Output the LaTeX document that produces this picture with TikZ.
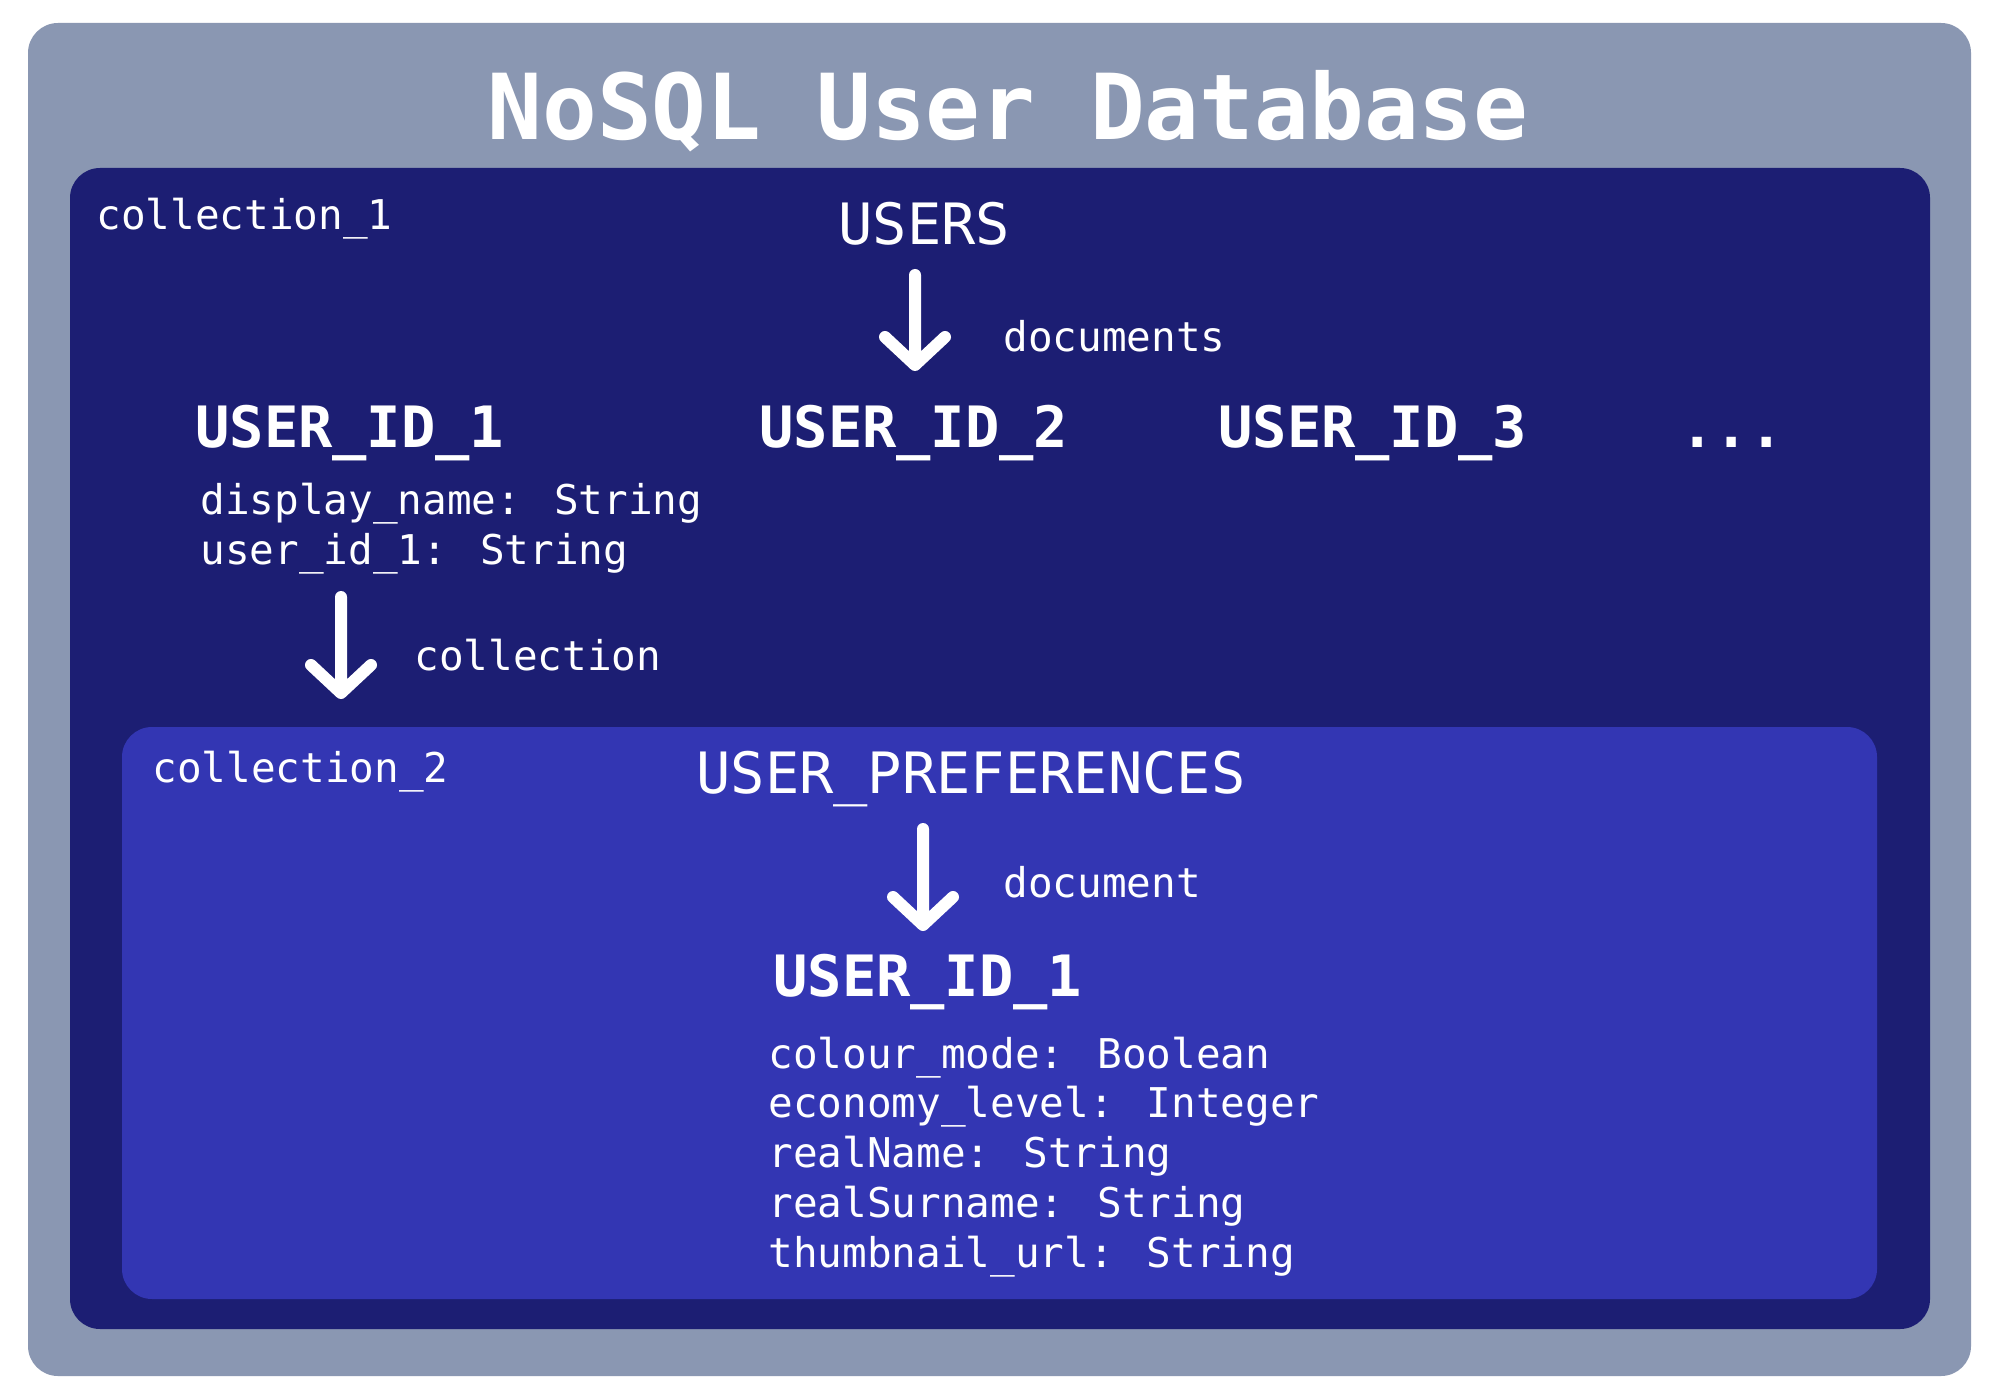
\documentclass[tikz,border=0pt]{standalone}
\usepackage{fontspec}
\setmainfont{DejaVu Sans Mono}
\usetikzlibrary{calc}
\definecolor{outerc}{RGB}{138,151,178}
\definecolor{darkc}{RGB}{28,30,115}
\definecolor{lightc}{RGB}{51,54,179}
\tikzset{
 txt/.style={text=white, inner sep=0pt, anchor=base west},
 small/.style={txt, font=\fontsize{20.5}{25}\selectfont},
 mid/.style={txt, font=\fontsize{28.5}{34}\selectfont},
 midb/.style={txt, font=\fontsize{28.5}{34}\selectfont\bfseries},
 titlef/.style={txt, font=\fontsize{45.5}{54}\selectfont\bfseries},
 arrowline/.style={draw=white, line width=6pt, line cap=round, line join=round},
 panel/.style={rounded corners=15pt}
}
\begin{document}
\begin{tikzpicture}[x=0.5pt,y=-0.5pt]
\useasboundingbox (0,0) rectangle (2000,1400);
\fill[white] (0,0) rectangle (2000,1400);
\fill[outerc, panel] (28,23) rectangle (1971,1376);
\fill[darkc, panel] (70,168) rectangle (1930,1329);
\fill[lightc, panel] (122,727) rectangle (1877,1299);

\node[titlef, anchor=base] (title) at (1008,140) {NoSQL User Database};

\node[small] (coll1) at (96,230) {collection\_1};
\node[mid] (users) at (838,245) {USERS};
\node[small] (docs) at (1003,352) {documents};
\node[midb] (uid1) at (195,448) {USER\_ID\_1};
\node[midb] (uid2) at (759,448) {USER\_ID\_2};
\node[midb] (uid3) at (1218,448) {USER\_ID\_3};
\node[midb] (more) at (1680,448) {...};
\node[small] (f1) at (200,515) {display\_name: String};
\node[small] (f2) at (200,565) {user\_id\_1: String};
\node[small] (collab) at (414,670) {collection};

\node[small] (coll2) at (152,782) {collection\_2};
\node[mid] (prefs) at (696,793) {USER\_PREFERENCES};
\node[small] (doclab) at (1003,897) {document};
\node[midb] (puid) at (773,996) {USER\_ID\_1};
\node[small] (p1) at (768,1068) {colour\_mode: Boolean};
\node[small] (p2) at (768,1117) {economy\_level: Integer};
\node[small] (p3) at (768,1167) {realName: String};
\node[small] (p4) at (768,1217) {realSurname: String};
\node[small] (p5) at (768,1267) {thumbnail\_url: String};

\coordinate (a1top) at (915,275);
\coordinate (a1tip) at (915,365);
\coordinate (a2top) at (341,597);
\coordinate (a2tip) at (341,693);
\coordinate (a3top) at (923,829);
\coordinate (a3tip) at (923,925);

\draw[arrowline] (a1top) -- (a1tip) ($(a1tip)+(-30,-28)$) -- (a1tip) -- ($(a1tip)+(30,-28)$);
\draw[arrowline] (a2top) -- (a2tip) ($(a2tip)+(-30,-28)$) -- (a2tip) -- ($(a2tip)+(30,-28)$);
\draw[arrowline] (a3top) -- (a3tip) ($(a3tip)+(-30,-28)$) -- (a3tip) -- ($(a3tip)+(30,-28)$);
\end{tikzpicture}
\end{document}
